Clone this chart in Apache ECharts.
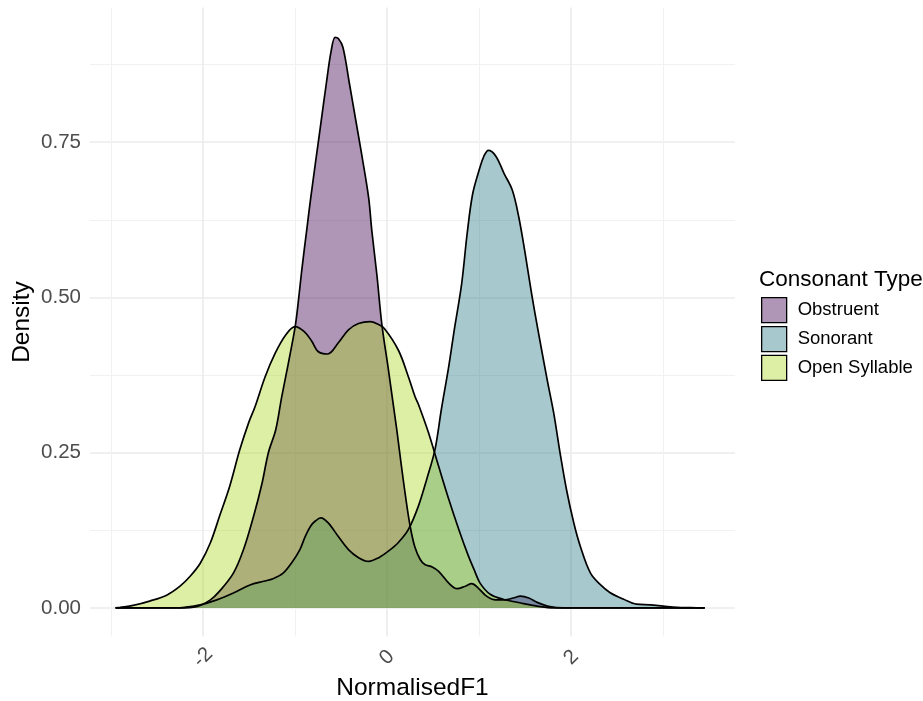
<!DOCTYPE html>
<html><head><meta charset="utf-8">
<script src="https://cdn.jsdelivr.net/npm/echarts@6/dist/echarts.min.js"></script>
<style>html,body{margin:0;padding:0;background:#fff}#c{width:923px;height:701px}</style>
</head><body><div id="c"></div>
<script>
const categories = ['Obstruent', 'Sonorant', 'Open Syllable'];

const obstruentX = [-2.95, -2.25, -2.07, -1.92, -1.82, -1.67, -1.56, -1.45, -1.36, -1.29, -1.21, -1.145, -1.073, -1.0, -0.971, -0.927, -0.873, -0.83, -0.78, -0.72, -0.66, -0.61, -0.565, -0.53, -0.48, -0.41, -0.34, -0.27, -0.2, -0.167, -0.11, -0.058, 0.015, 0.06, 0.105, 0.15, 0.2, 0.25, 0.3, 0.36, 0.41, 0.49, 0.56, 0.67, 0.76, 0.85, 0.92, 0.99, 1.08, 1.18, 1.28, 1.37, 1.45, 1.54, 1.63, 1.77, 1.92, 3.45];
const obstruentY = [0, 0, 0.002, 0.013, 0.027, 0.056, 0.094, 0.148, 0.2, 0.25, 0.287, 0.34, 0.394, 0.452, 0.485, 0.544, 0.609, 0.66, 0.715, 0.78, 0.845, 0.895, 0.919, 0.917, 0.903, 0.845, 0.785, 0.725, 0.66, 0.609, 0.535, 0.458, 0.383, 0.335, 0.287, 0.235, 0.18, 0.132, 0.099, 0.078, 0.07, 0.066, 0.059, 0.04, 0.031, 0.035, 0.039, 0.032, 0.019, 0.013, 0.013, 0.016, 0.019, 0.016, 0.009, 0.002, 0, 0];

const sonorantX = [-2.95, -2.3, -2.2, -2.03, -1.85, -1.67, -1.49, -1.34, -1.24, -1.13, -1.04, -0.95, -0.89, -0.83, -0.78, -0.72, -0.64, -0.53, -0.42, -0.31, -0.2, -0.09, 0.01, 0.12, 0.23, 0.34, 0.43, 0.52, 0.59, 0.67, 0.73, 0.81, 0.87, 0.93, 1.01, 1.05, 1.1, 1.18, 1.27, 1.36, 1.43, 1.5, 1.57, 1.64, 1.74, 1.81, 1.88, 1.95, 2.03, 2.1, 2.21, 2.32, 2.42, 2.57, 2.71, 2.86, 3.0, 3.15, 3.3, 3.45];
const sonorantY = [0, 0, 0.001, 0.005, 0.013, 0.024, 0.037, 0.043, 0.047, 0.056, 0.072, 0.093, 0.115, 0.132, 0.14, 0.145, 0.137, 0.115, 0.094, 0.081, 0.075, 0.081, 0.091, 0.105, 0.126, 0.164, 0.207, 0.255, 0.32, 0.389, 0.448, 0.522, 0.603, 0.667, 0.71, 0.727, 0.737, 0.728, 0.70, 0.673, 0.63, 0.571, 0.506, 0.447, 0.367, 0.314, 0.249, 0.19, 0.136, 0.099, 0.056, 0.037, 0.025, 0.014, 0.006, 0.005, 0.003, 0.001, 0.0005, 0];

const openSyllableX = [-2.95, -2.9, -2.76, -2.58, -2.39, -2.25, -2.14, -2.03, -1.92, -1.82, -1.71, -1.6, -1.5, -1.435, -1.326, -1.217, -1.1, -1.0, -0.9, -0.82, -0.75, -0.645, -0.53, -0.42, -0.31, -0.185, -0.1, -0.03, 0.123, 0.232, 0.304, 0.34, 0.45, 0.56, 0.67, 0.78, 0.88, 0.95, 1.01, 1.12, 1.26, 1.45, 1.63, 1.81, 3.45];
const openSyllableY = [0, 0.001, 0.004, 0.011, 0.021, 0.035, 0.051, 0.072, 0.105, 0.148, 0.196, 0.255, 0.3, 0.324, 0.372, 0.41, 0.44, 0.453, 0.445, 0.43, 0.413, 0.409, 0.427, 0.448, 0.458, 0.461, 0.457, 0.45, 0.415, 0.372, 0.34, 0.328, 0.282, 0.228, 0.175, 0.126, 0.085, 0.06, 0.04, 0.022, 0.014, 0.008, 0.003, 0, 0];

const xMajorTicks = [-2, 0, 2];
const xMinorTicks = [-3, -1, 1, 3];
const yMajorTicks = [0, 0.25, 0.5, 0.75];
const yMinorTicks = [0.125, 0.375, 0.625, 0.875];

const fills = ['rgba(62,0,78,0.41)', 'rgba(35,120,130,0.4)', 'rgba(170,215,30,0.4)'];
const FONT = 'Liberation Sans, Arial, Helvetica, sans-serif';

const xs = [obstruentX, sonorantX, openSyllableX];
const ys = [obstruentY, sonorantY, openSyllableY];
function zip(a, b) { return a.map((v, i) => [v, b[i]]); }

const X_MIN = -3.228, X_MAX = 3.78, Y_MIN = -0.046, Y_MAX = 0.967;

const chart = echarts.init(document.getElementById('c'), null, {renderer: 'canvas'});
chart.setOption({
  animation: false,
  backgroundColor: '#ffffff',
  grid: {left: 90, right: 188, top: 7.5, bottom: 64.5, containLabel: false, outerBoundsMode: 'none'},
  title: {
    text: 'Consonant Type', left: 759, top: 266,
    textStyle: {fontFamily: FONT, fontSize: 22.5, fontWeight: 'normal', color: '#000', lineHeight: 28},
    padding: 0
  },
  legend: {
    data: categories.map((c, i) => ({name: c, icon: 'rect', itemStyle: {color: fills[i], borderColor: '#000', borderWidth: 1.3}})),
    orient: 'vertical', left: 761, top: 297, padding: 0,
    itemWidth: 25, itemHeight: 25, itemGap: 2.6,
    textStyle: {fontFamily: FONT, fontSize: 18.5, color: '#000', padding: [0, 0, 0, 6]},
    selectedMode: false
  },
  xAxis: [
    {
      type: 'value', min: X_MIN, max: X_MAX,
      axisLine: {show: false},
      axisTick: {show: false, customValues: xMajorTicks},
      axisLabel: {customValues: xMajorTicks, rotate: 45, margin: 21, align: 'center', verticalAlign: 'middle',
        fontFamily: FONT, fontSize: 20.5, color: '#4D4D4D', formatter: v => String(v)},
      splitLine: {show: true, lineStyle: {color: '#EBEBEB', width: 1.6}},
      name: 'NormalisedF1', nameLocation: 'middle', nameGap: 39, nameMoveOverlap: false,
      nameTextStyle: {fontFamily: FONT, fontSize: 24.5, color: '#000'}
    },
    {
      type: 'value', min: X_MIN, max: X_MAX, position: 'bottom',
      axisLine: {show: false},
      axisTick: {show: false, customValues: xMinorTicks},
      axisLabel: {show: false},
      splitLine: {show: true, lineStyle: {color: '#F1F1F1', width: 1}}
    }
  ],
  yAxis: [
    {
      type: 'value', min: Y_MIN, max: Y_MAX,
      axisLine: {show: false},
      axisTick: {show: false, customValues: yMajorTicks},
      axisLabel: {customValues: yMajorTicks, margin: 9, fontFamily: FONT, fontSize: 20.5, color: '#4D4D4D',
        formatter: v => Number(v).toFixed(2)},
      splitLine: {show: true, lineStyle: {color: '#EBEBEB', width: 1.6}},
      name: 'Density', nameLocation: 'middle', nameGap: 55, nameRotate: 90, nameMoveOverlap: false,
      nameTextStyle: {fontFamily: FONT, fontSize: 24.5, color: '#000'}
    },
    {
      type: 'value', min: Y_MIN, max: Y_MAX, position: 'left',
      axisLine: {show: false},
      axisTick: {show: false, customValues: yMinorTicks},
      axisLabel: {show: false},
      splitLine: {show: true, lineStyle: {color: '#F1F1F1', width: 1}}
    }
  ],
  series: categories.map((name, i) => ({
    name: name, type: 'line', xAxisIndex: 0, yAxisIndex: 0,
    data: zip(xs[i], ys[i]),
    smooth: 0.35, symbol: 'none', showSymbol: false, silent: true,
    lineStyle: {color: '#000', width: 1.7},
    itemStyle: {color: fills[i]},
    areaStyle: {color: fills[i], opacity: 1},
    z: 3
  }))
});
</script></body></html>
